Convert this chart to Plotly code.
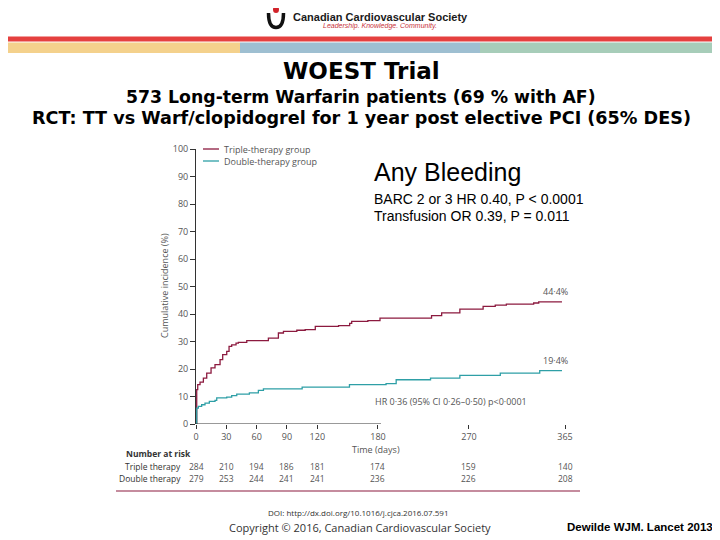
import plotly.graph_objects as go

# ---------------- data ----------------
triple_days = [0, 0.7, 1.7, 4, 7.3, 10.6, 14.9, 18.8, 23.8, 26.4, 30.4, 32.7, 35.3, 39.6, 41.9,
               50.2, 71.6, 81.5, 86.5, 99.7, 108, 118, 141, 152, 154, 170, 182, 233, 243, 261,
               284, 296, 307, 334, 339, 362]
triple_vals = [0, 12.5, 14.3, 15.2, 16.7, 18.5, 20.4, 21.6, 23.4, 25.2, 26.4, 28.2, 28.8, 29.4, 29.7,
               30.3, 31.2, 33.1, 33.7, 34.1, 34.3, 35.5, 35.8, 36.6, 37.3, 37.6, 38.5, 39.4, 40.4, 41.8,
               42.8, 43.2, 43.6, 44.0, 44.4, 44.4]

double_days = [0, 0.7, 2.3, 5.6, 8.9, 13.2, 18.8, 20.5, 30.4, 35.3, 40.3, 52.8, 61.7, 66.7, 105,
               151.8, 188, 198, 232, 261, 301, 340, 362]
double_vals = [0, 5.8, 6.4, 7.0, 7.6, 8.2, 8.6, 9.5, 9.8, 10.3, 10.9, 11.3, 12.2, 12.8, 13.4,
               14.3, 14.7, 16.1, 16.7, 17.7, 18.5, 19.4, 19.4]

x_ticks = [0, 30, 60, 90, 120, 180, 270, 365]
y_ticks = [0, 10, 20, 30, 40, 50, 60, 70, 80, 90, 100]
risk_triple = [284, 210, 194, 186, 181, 174, 159, 140]
risk_double = [279, 253, 244, 241, 241, 236, 226, 208]

series_names = ["Triple-therapy group", "Double-therapy group"]
end_labels = ["44·4%", "19·4%"]

# ---------------- layout helpers ----------------
# the page body has an 8px margin; the figure is sized so that it fills the rest of the window
OFF = 8
FW, FH = 720 - OFF, 540 - OFF
PL, PR, PT, PB = 196, 565, 149, 424          # plot area in window pixels
L, T = PL - OFF, PT - OFF
R, B = FW - (PR - OFF), FH - (PB - OFF)
PW, PH = PR - PL, PB - PT


def px(x):
    return (x - PL) / PW


def py(y):
    return (PB - y) / PH


C_TRIPLE = "#8C1A3F"
C_DOUBLE = "#2E9FA6"
GRAY = "#555555"
CHART_FONT = "Open Sans"
SLIDE_FONT = "Liberation Sans"
TITLE_FONT = "DejaVu Sans"

fig = go.Figure()
fig.add_trace(go.Scatter(x=triple_days, y=triple_vals, mode="lines", line_shape="hv",
                         line=dict(color=C_TRIPLE, width=1.3), name=series_names[0], showlegend=False))
fig.add_trace(go.Scatter(x=double_days, y=double_vals, mode="lines", line_shape="hv",
                         line=dict(color=C_DOUBLE, width=1.3), name=series_names[1], showlegend=False))

shapes = []
annotations = []


def text(t, x, y, size, color="black", family=CHART_FONT, xanchor="center", **kw):
    annotations.append(dict(text=t, x=px(x), y=py(y), xref="paper", yref="paper", xanchor=xanchor,
                            yanchor="middle", showarrow=False, font=dict(family=family, size=size, color=color), **kw))


# top decoration bands
shapes.append(dict(type="rect", xref="paper", yref="paper", x0=px(0), x1=px(721), y0=py(41.5), y1=py(36.5),
                   fillcolor="#E5403F", line_width=0, layer="below"))
for x0, x1, col in [(0, 240, "#F4D18C"), (240, 480, "#9EBFD1"), (480, 721, "#A7CDB9")]:
    shapes.append(dict(type="rect", xref="paper", yref="paper", x0=px(x0), x1=px(x1), y0=py(53), y1=py(42.5),
                       fillcolor=col, line_width=0, layer="below"))

# logo icon
path_u = "M {a},{b} Q {c},{d} {e},{f} Q {g},{h} {i},{j}".format(
    a=px(268.5), b=py(13), c=px(268.5), d=py(27.5), e=px(276), f=py(27.5), g=px(283.5), h=py(27.5), i=px(283.5), j=py(13))
shapes.append(dict(type="path", xref="paper", yref="paper", path=path_u, line=dict(color="#111111", width=3.5)))
shapes.append(dict(type="circle", xref="paper", yref="paper", x0=px(273), x1=px(279), y0=py(13), y1=py(6),
                   fillcolor="#D2232A", line_width=0))
text("<b>Canadian Cardiovascular Society</b>", 291, 17, 11, "#1A1A1A", "Liberation Sans", xanchor="left")
text("<i>Leadership. Knowledge. Community.</i>", 380, 25.5, 7, "#C8323A", "Liberation Sans")

# titles
text("<b>WOEST Trial</b>", 361, 71, 23, family=TITLE_FONT)
text("<b>573 Long-term Warfarin patients (69 % with AF)</b>", 361, 97, 17.3, family=TITLE_FONT)
text("<b>RCT: TT vs Warf/clopidogrel for 1 year post elective PCI (65% DES)</b>", 361, 118, 17.6, family=TITLE_FONT)

# bleeding text block
text("Any Bleeding", 372, 172, 25, family=SLIDE_FONT, xanchor="left")
text("BARC 2 or 3 HR 0.40, P < 0.0001", 372, 199, 14, family=SLIDE_FONT, xanchor="left")
text("Transfusion OR 0.39, P = 0.011", 372, 216, 14, family=SLIDE_FONT, xanchor="left")

# legend (manual)
for i, (name, col) in enumerate(zip(series_names, [C_TRIPLE, C_DOUBLE])):
    yy = 149 + 12 * i
    shapes.append(dict(type="line", xref="paper", yref="paper", x0=px(203), x1=px(219), y0=py(yy), y1=py(yy),
                       line=dict(color=col, width=1.3)))
    text(name, 222, yy, 9, GRAY, xanchor="left")

# end labels
for days, vals, lab in [(triple_days, triple_vals, end_labels[0]), (double_days, double_vals, end_labels[1])]:
    annotations.append(dict(text=lab, x=days[-1], y=vals[-1], xref="x", yref="y",
                            xanchor="right", yanchor="bottom", yshift=2, xshift=8, showarrow=False,
                            font=dict(family=CHART_FONT, size=9, color=GRAY)))
text("HR 0·36 (95% CI 0·26–0·50) p<0·0001", 373, 401, 9, GRAY, xanchor="left")

# x axis line (drawn up to 180 only, as in source)
shapes.append(dict(type="line", xref="x", yref="y", x0=0, x1=183, y0=0, y1=0, line=dict(color="#333333", width=1)))

text("Time (days)", 376, 449, 9, GRAY)
text("Cumulative incidence (%)", 164, 286, 9, GRAY, textangle=-90)

# number at risk table
text("<b>Number at risk</b>", 124, 453, 8.5, "#333333", xanchor="left")
for label, row, yy in [("Triple therapy", risk_triple, 466.5), ("Double therapy", risk_double, 478.5)]:
    text(label, 183, yy, 8.5, "#333333", xanchor="right")
    for xv, n in zip(x_ticks, row):
        annotations.append(dict(text=str(n), x=xv, y=py(yy), xref="x", yref="paper",
                                xanchor="center", yanchor="middle", showarrow=False,
                                font=dict(family=CHART_FONT, size=8.5, color=GRAY)))

shapes.append(dict(type="line", xref="paper", yref="paper", x0=px(116), x1=px(580), y0=py(491), y1=py(491),
                   line=dict(color="#8C1A3F", width=1.2)))

text("DOI: http://dx.doi.org/10.1016/j.cjca.2016.07.591", 358, 512, 8, "#333333")
text("Copyright © 2016, Canadian Cardiovascular Society", 360, 527, 11, "#333333")
text("<b>Dewilde WJM. Lancet 2013</b>", 715, 527, 11.5, "black", SLIDE_FONT, xanchor="right")

fig.update_layout(
    width=FW, height=FH,
    margin=dict(l=L, r=R, t=T, b=B, pad=0),
    paper_bgcolor="white", plot_bgcolor="white",
    showlegend=False,
    shapes=shapes, annotations=annotations,
    xaxis=dict(range=[0, 365], tickvals=x_ticks, ticktext=[str(v) for v in x_ticks],
               showgrid=False, zeroline=False, showline=False, ticks="outside", ticklen=4,
               tickcolor="#333333", tickfont=dict(family=CHART_FONT, size=9, color=GRAY)),
    yaxis=dict(range=[0, 100], tickvals=y_ticks, showgrid=False, zeroline=False, showline=True,
               linecolor="#333333", linewidth=1, ticks="outside", ticklen=5, tickcolor="#333333",
               tickfont=dict(family=CHART_FONT, size=9, color=GRAY)),
)

fig.write_html("out.html")
